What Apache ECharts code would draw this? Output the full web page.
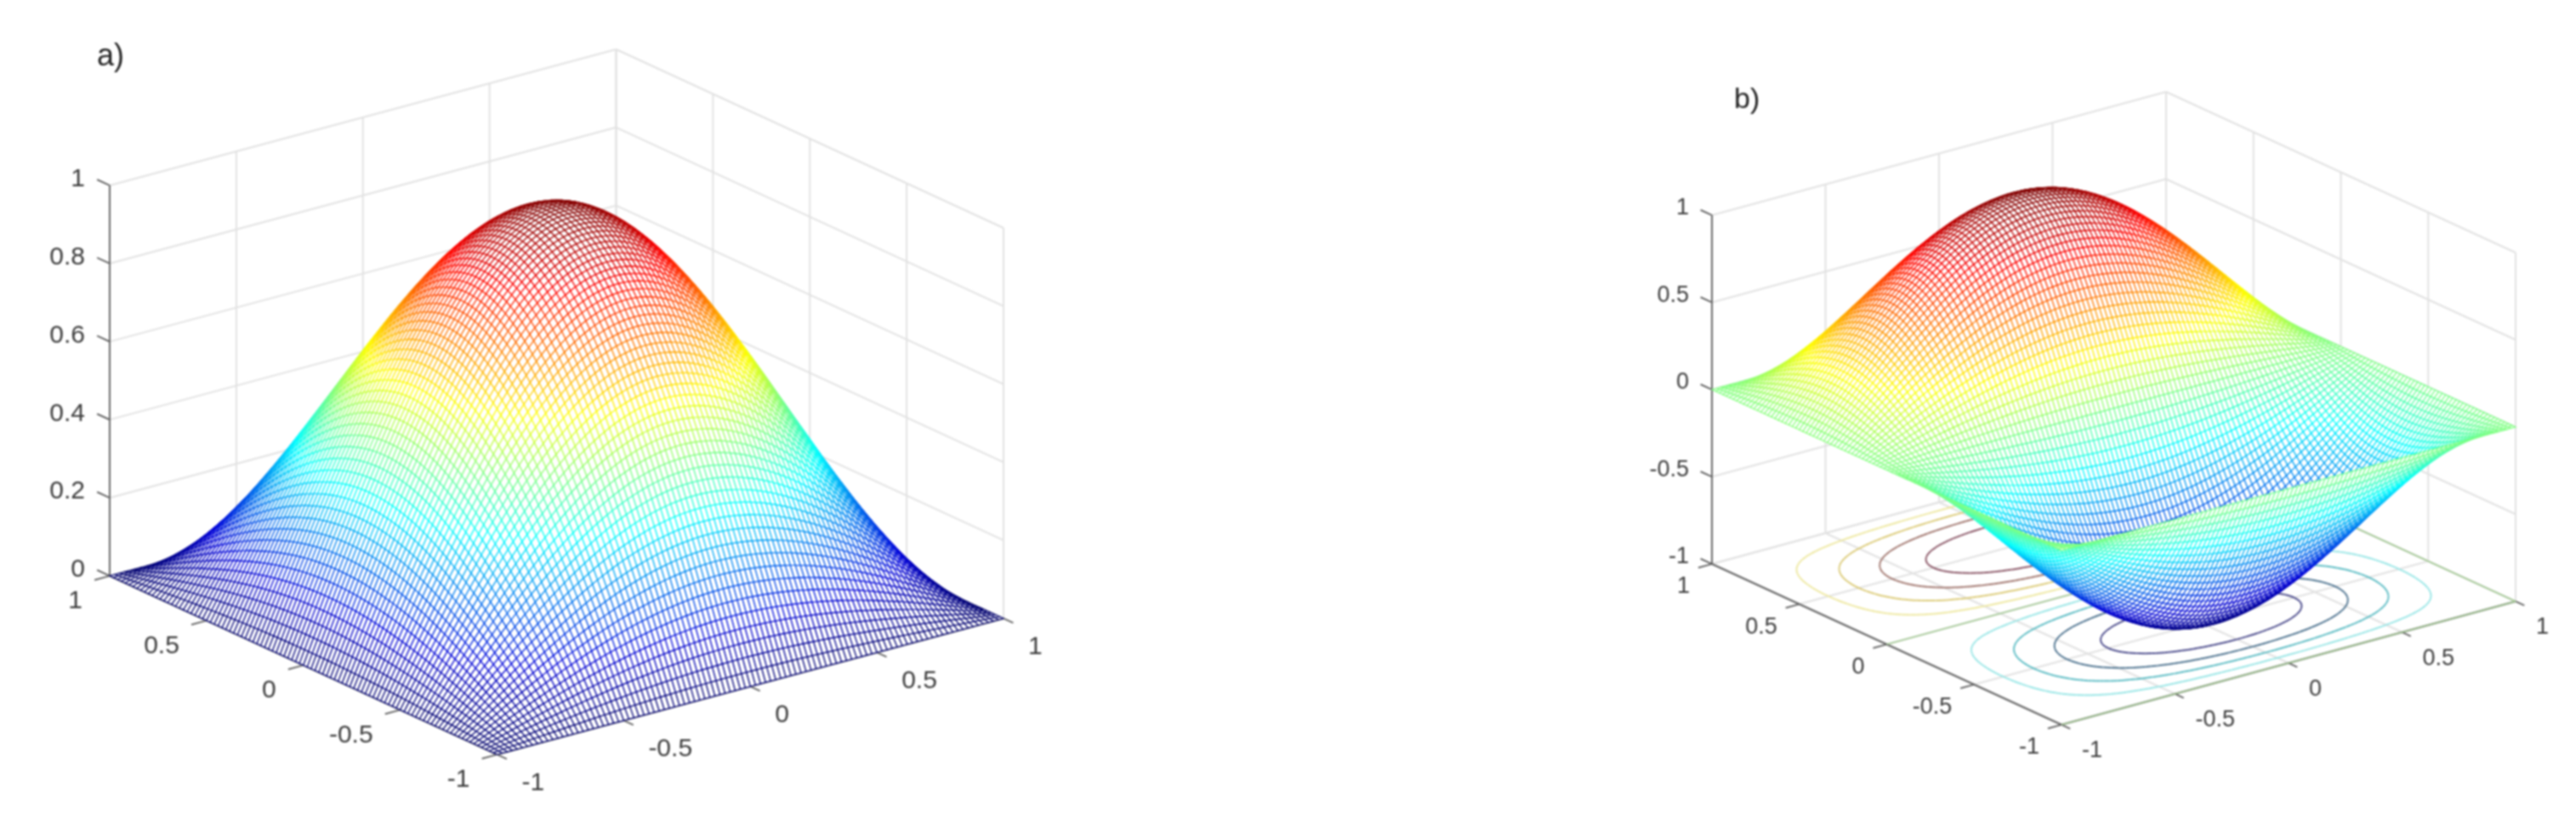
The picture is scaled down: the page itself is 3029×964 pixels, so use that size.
<!DOCTYPE html>
<html>
<head>
<meta charset="utf-8">
<title>Surface plots a) and b)</title>
<style>
  html, body { margin: 0; background: #fff; }
  #chart { width: 3029px; height: 964px; }
  #chart canvas { filter: blur(1px); }
</style>
<script src="https://cdn.jsdelivr.net/npm/echarts@6/dist/echarts.min.js"></script>
</head>
<body>
<div id="chart"></div>
<script>
// sections of the surfaces, centre (index 0) to edge (index 50), step 0.02
// estimated from the silhouettes and contour crossings, the mesh is the product of two sections
const domeSection = [1, .9995, .998, .9956, .9921, .9877, .9823, .9759, .9686, .9603,
  .9511, .9409, .9298, .9178, .9048, .891, .8763, .8607, .8443, .8271,
  .809, .7902, .7705, .7501, .729, .7071, .6845, .6613, .6374, .6129,
  .5878, .5621, .5358, .509, .4818, .454, .4258, .3971, .3681, .3387,
  .309, .279, .2487, .2181, .1874, .1564, .1253, .0941, .0628, .0314, 0]
// plot b along y, odd around the centre
const waveSection = [0, .0628, .1253, .1874, .2487, .309, .3681, .4258, .4818, .5358,
  .5878, .6374, .6845, .729, .7705, .809, .8443, .8763, .9048, .9298,
  .9511, .9686, .9823, .9921, .998, 1, .998, .9921, .9823, .9686,
  .9511, .9298, .9048, .8763, .8443, .809, .7705, .729, .6845, .6374,
  .5878, .5358, .4818, .4258, .3681, .309, .2487, .1874, .1253, .0628, 0]

const xyTicks = [-1, -0.5, 0, 0.5, 1]
const zTicksA = [0, 0.2, 0.4, 0.6, 0.8, 1]
const zTicksB = [-1, -0.5, 0, 0.5, 1]
const contourLevels = [-0.8, -0.6, -0.4, -0.2, 0.2, 0.4, 0.6, 0.8]
const contourColors = ['#4c4c8c', '#4f7490', '#5cbcc4', '#98e6e6', '#eee8a0', '#dccb78', '#a27870', '#8a5666']
const jet = ['#00006c', '#0000d8', '#0078f0', '#00ffff', '#80ff80', '#ffff00', '#ff8000', '#ff0000', '#800000']

const CELLS = 100
const sectionAt = (s, i) => s[Math.abs(i - CELLS / 2)]
const heightA = (i, j) => sectionAt(domeSection, i) * sectionAt(domeSection, j)
const heightB = (i, j) => sectionAt(domeSection, i) * sectionAt(waveSection, j) * (j < CELLS / 2 ? -1 : 1)

// view of each plot: front corner, the two floor edges, pixels per z unit
const viewA = { front: [584.5, 887], xEdge: [595.5, -160], yEdge: [-455.5, -210], zScale: 459, zFloor: 0, zMin: 0, zMax: 1 }
const viewB = { front: [2424, 852], xEdge: [534, -145], yEdge: [-411, -189], zScale: 205, zFloor: -1, zMin: -1, zMax: 1 }

function project(view, x, y, z) {
  const u = (x + 1) / 2
  const v = (y + 1) / 2
  return [
    view.front[0] + u * view.xEdge[0] + v * view.yEdge[0],
    view.front[1] + u * view.xEdge[1] + v * view.yEdge[1] - (z - view.zFloor) * view.zScale
  ]
}

const lineStyles = [
  { stroke: '#e2e2e2', lineWidth: 2 }, // grid
  { stroke: '#666', lineWidth: 2 },    // axis
  { stroke: '#555', lineWidth: 1.8 }   // tick
]

function frameSegments(view, zTicks) {
  const f = view.zFloor
  const top = view.zMax
  const segs = []
  xyTicks.forEach(t => {
    segs.push([t, 1, f, t, 1, top, 0])    // back wall y = 1
    segs.push([1, t, f, 1, t, top, 0])    // back wall x = 1
    segs.push([t, -1, f, t, 1, f, 0])     // floor
    segs.push([-1, t, f, 1, t, f, 0])
  })
  zTicks.forEach(z => {
    segs.push([-1, 1, z, 1, 1, z, 0])
    segs.push([1, 1, z, 1, -1, z, 0])
    segs.push([-1, 1, z, -1, 1.065, z, 2])
  })
  segs.push([-1, 1, f, -1, 1, top, 1])
  segs.push([-1, 1, f, -1, -1, f, 1])
  segs.push([-1, -1, f, 1, -1, f, 1])
  xyTicks.forEach(t => {
    segs.push([-1, t, f, -1.06, t, f, 2])
    segs.push([t, -1, f, t, -1.05, f, 2])
  })
  return segs
}

function frameSeries(view, zTicks) {
  return {
    type: 'custom',
    silent: true,
    data: frameSegments(view, zTicks),
    renderItem(params, api) {
      const a = api.coord(project(view, api.value(0), api.value(1), api.value(2)))
      const b = api.coord(project(view, api.value(3), api.value(4), api.value(5)))
      return {
        type: 'line',
        shape: { x1: a[0], y1: a[1], x2: b[0], y2: b[1] },
        style: Object.assign({ fill: null }, lineStyles[api.value(6)])
      }
    }
  }
}

// far corner is x = 1, y = 1, so painting from there hides what is behind
function surfaceCells() {
  const cells = []
  for (let i = CELLS - 1; i >= 0; i--) {
    for (let j = CELLS - 1; j >= 0; j--) cells.push([i, j])
  }
  return cells
}

function surfaceSeries(view, height) {
  const gridPos = k => -1 + k * 2 / CELLS
  return {
    type: 'custom',
    silent: true,
    progressive: 0,
    data: surfaceCells(),
    renderItem(params, api) {
      const i = api.value(0)
      const j = api.value(1)
      const corners = [[i, j], [i + 1, j], [i + 1, j + 1], [i, j + 1]]
      let sum = 0
      const points = corners.map(c => {
        const z = height(c[0], c[1])
        sum += z
        return api.coord(project(view, gridPos(c[0]), gridPos(c[1]), z))
      })
      const t = (sum / 4 - view.zMin) / (view.zMax - view.zMin)
      return {
        type: 'polygon',
        shape: { points },
        style: { fill: '#fff', stroke: echarts.color.lerp(t, jet), lineWidth: 1.2 }
      }
    }
  }
}

// contour lines of plot b on its floor
function contourSegments(height) {
  const gridPos = k => -1 + k * 2 / CELLS
  const segs = []
  contourLevels.forEach((level, li) => {
    for (let i = 0; i < CELLS; i++) {
      for (let j = 0; j < CELLS; j++) {
        const c = [[i, j], [i + 1, j], [i + 1, j + 1], [i, j + 1]]
        const hits = []
        for (let k = 0; k < 4; k++) {
          const p = c[k]
          const q = c[(k + 1) % 4]
          const a = height(p[0], p[1])
          const b = height(q[0], q[1])
          if ((a < level) !== (b < level)) {
            const s = (level - a) / (b - a)
            hits.push([gridPos(p[0] + s * (q[0] - p[0])), gridPos(p[1] + s * (q[1] - p[1]))])
          }
        }
        if (hits.length === 2) segs.push([hits[0][0], hits[0][1], hits[1][0], hits[1][1], li])
      }
    }
  })
  return segs
}

function contourSeries(view, height) {
  return {
    type: 'custom',
    silent: true,
    progressive: 0,
    data: contourSegments(height),
    renderItem(params, api) {
      const a = api.coord(project(view, api.value(0), api.value(1), view.zFloor))
      const b = api.coord(project(view, api.value(2), api.value(3), view.zFloor))
      return {
        type: 'line',
        shape: { x1: a[0], y1: a[1], x2: b[0], y2: b[1] },
        style: { stroke: contourColors[api.value(4)], lineWidth: 2 }
      }
    }
  }
}

// zero contour, it runs along y = 0 and round the edge of the floor
function zeroSeries(view) {
  const f = view.zFloor
  return {
    type: 'custom',
    silent: true,
    data: [[-1, 0, 1, 0], [1, -1, 1, 1], [-1, -1, 1, -1]],
    renderItem(params, api) {
      const a = api.coord(project(view, api.value(0), api.value(1), f))
      const b = api.coord(project(view, api.value(2), api.value(3), f))
      return {
        type: 'line',
        shape: { x1: a[0], y1: a[1], x2: b[0], y2: b[1] },
        style: { stroke: '#a0c890', lineWidth: 1.8 }
      }
    }
  }
}

function labelSeries(view, points, texts, dx, dy, align, size) {
  return {
    type: 'custom',
    silent: true,
    data: points,
    renderItem(params, api) {
      const p = api.coord(project(view, api.value(0), api.value(1), api.value(2)))
      return {
        type: 'text',
        x: p[0] + dx,
        y: p[1] + dy,
        style: {
          text: String(texts[params.dataIndex]),
          fill: '#3c3c3c',
          font: size + 'px "Liberation Sans"',
          align,
          verticalAlign: 'middle'
        }
      }
    }
  }
}

function axisLabels(view, zTicks, size, yOff, xOff, zOff) {
  const f = view.zFloor
  return [
    labelSeries(view, xyTicks.map(t => [-1, t, f]), xyTicks, yOff[0], yOff[1], 'right', size),
    labelSeries(view, xyTicks.map(t => [t, -1, f]), xyTicks, xOff[0], xOff[1], 'left', size),
    labelSeries(view, zTicks.map(z => [-1, 1, z]), zTicks, zOff[0], zOff[1], 'right', size)
  ]
}

const chart = echarts.init(document.getElementById('chart'))
chart.setOption({
  animation: false,
  backgroundColor: '#fff',
  title: [
    { text: 'a)', left: 109, top: 44, textStyle: { color: '#222', fontFamily: 'Liberation Sans', fontSize: 36, fontWeight: 'normal' } },
    { text: 'b)', left: 2034, top: 96, textStyle: { color: '#222', fontFamily: 'Liberation Sans', fontSize: 34, fontWeight: 'normal' } }
  ],
  grid: { left: 0, top: 0, right: 0, bottom: 0 },
  xAxis: { type: 'value', min: 0, max: 3029, show: false },
  yAxis: { type: 'value', min: 0, max: 964, inverse: true, show: false },
  series: [
    frameSeries(viewA, zTicksA),
    surfaceSeries(viewA, heightA),
    ...axisLabels(viewA, zTicksA, 30, [-32, 30], [29, 34], [-29, -7]),
    frameSeries(viewB, zTicksB),
    contourSeries(viewB, heightB),
    zeroSeries(viewB),
    surfaceSeries(viewB, heightB),
    ...axisLabels(viewB, zTicksB, 27, [-26, 27], [24, 31], [-27, -8])
  ]
})
</script>
</body>
</html>
